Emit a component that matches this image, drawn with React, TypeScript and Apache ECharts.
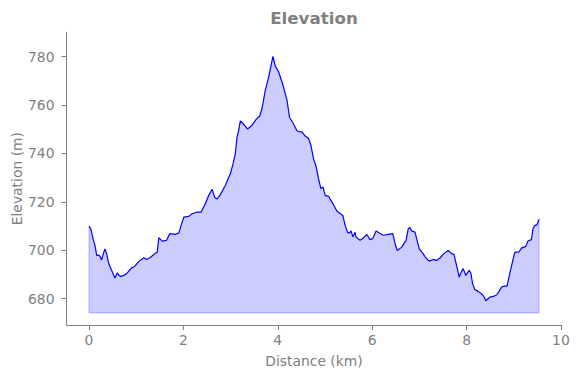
import React, { useEffect, useRef } from "react";
import * as echarts from "echarts";

const distanceKm = [
  0.0, 0.036, 0.085, 0.127, 0.163, 0.199, 0.233, 0.268, 0.304, 0.338, 0.374, 0.41, 0.444, 0.495, 0.55,
  0.6, 0.634, 0.67, 0.74, 0.812, 0.896, 0.966, 1.057, 1.163, 1.22, 1.29, 1.41, 1.446, 1.48, 1.552,
  1.643, 1.67, 1.712, 1.833, 1.903, 1.953, 2.008, 2.114, 2.186, 2.292, 2.376, 2.467, 2.537, 2.609,
  2.664, 2.715, 2.784, 2.89, 2.996, 3.053, 3.101, 3.137, 3.171, 3.207, 3.264, 3.362, 3.455, 3.545,
  3.615, 3.666, 3.736, 3.805, 3.898, 3.947, 4.017, 4.11, 4.195, 4.249, 4.321, 4.406, 4.476, 4.512,
  4.581, 4.651, 4.702, 4.757, 4.814, 4.863, 4.913, 4.956, 5.004, 5.074, 5.167, 5.252, 5.321, 5.378,
  5.427, 5.476, 5.518, 5.554, 5.59, 5.638, 5.66, 5.744, 5.814, 5.886, 5.956, 6.013, 6.082, 6.152,
  6.237, 6.342, 6.436, 6.484, 6.533, 6.626, 6.717, 6.765, 6.801, 6.837, 6.907, 6.998, 7.07, 7.14,
  7.209, 7.294, 7.366, 7.436, 7.52, 7.611, 7.683, 7.732, 7.789, 7.844, 7.88, 7.928, 7.985, 8.055,
  8.091, 8.127, 8.175, 8.245, 8.317, 8.366, 8.408, 8.493, 8.562, 8.634, 8.689, 8.74, 8.81, 8.858,
  8.915, 8.972, 9.021, 9.112, 9.163, 9.254, 9.302, 9.374, 9.408, 9.444, 9.493, 9.535,
];

const elevationM = [
  710.0, 709.0, 704.8, 702.0, 697.9, 698.0, 697.5, 696.0, 698.6, 700.5, 698.6, 695.0, 693.3, 691.0, 688.5,
  690.7, 689.6, 689.2, 689.6, 690.6, 692.6, 693.3, 695.4, 696.9, 696.2, 696.9, 698.8, 699.3, 705.2, 703.8,
  704.1, 705.2, 706.9, 706.6, 707.1, 710.3, 713.7, 714.0, 715.1, 715.8, 715.8, 719.3, 722.7, 725.2,
  721.8, 721.2, 723.0, 726.9, 731.7, 735.8, 740.0, 746.9, 749.6, 753.5, 752.4, 750.1, 751.7, 754.2,
  755.4, 758.6, 766.2, 771.5, 780.1, 776.1, 773.8, 768.3, 762.1, 754.9, 752.7, 749.4, 748.9, 748.9,
  747.2, 746.2, 743.4, 737.9, 734.5, 729.6, 725.5, 726.2, 722.7, 722.3, 719.3, 716.2, 715.2, 714.4,
  710.3, 707.5, 707.1, 708.0, 705.5, 707.4, 705.5, 704.1, 705.1, 706.5, 704.4, 704.8, 708.0, 707.1,
  706.2, 706.6, 706.9, 702.8, 699.9, 701.3, 704.1, 708.9, 709.4, 708.0, 707.5, 700.6, 698.8, 696.8,
  695.5, 696.2, 695.8, 696.8, 698.6, 699.9, 698.6, 698.3, 693.7, 688.9, 690.6, 692.4, 689.6, 691.7,
  690.6, 686.2, 683.8, 683.0, 682.0, 680.9, 679.1, 680.6, 680.9, 681.5, 683.0, 684.8, 685.2, 685.2,
  690.3, 695.1, 699.1, 699.3, 700.9, 701.6, 703.8, 704.4, 708.9, 710.2, 710.6, 712.8,
];

const xTicks = [0, 2, 4, 6, 8, 10];
const yTicks = [680, 700, 720, 740, 760, 780];

const TITLE = "Elevation";
const X_NAME = "Distance (km)";
const Y_NAME = "Elevation (m)";

export default function App() {
  const ref = useRef<HTMLDivElement>(null);

  useEffect(() => {
    if (!ref.current) return;
    const chart = echarts.init(ref.current, undefined, { renderer: "svg" });

    const data = distanceKm.map((d, i) => [d, elevationM[i]]);
    const minE = Math.min(...elevationM);
    const maxE = Math.max(...elevationM);
    const base = minE - 5;
    const xStart = distanceKm[0];
    const xEnd = distanceKm[distanceKm.length - 1];
    const xMargin = (xEnd - xStart) * 0.05;

    const gray = "#808080";
    const font = "DejaVu Sans";

    chart.setOption({
      animation: false,
      grid: {
        left: 66.5,
        right: 18.5,
        top: 32.3,
        bottom: 53,
        containLabel: false,
        outerBoundsMode: "none",
      },
      graphic: [
        {
          type: "text",
          x: 314,
          y: 18,
          style: {
            text: TITLE,
            fill: gray,
            font: `bold 16.7px "${font}"`,
            textAlign: "center",
            textVerticalAlign: "middle",
          },
        },
      ],
      xAxis: {
        type: "value",
        min: xStart - xMargin,
        max: xEnd + xMargin,
        name: X_NAME,
        nameLocation: "middle",
        nameGap: 29,
        nameMoveOverlap: false,
        nameTextStyle: { color: gray, fontSize: 13.9, fontFamily: font },
        axisLine: { show: true, onZero: false, lineStyle: { color: gray, width: 1 } },
        axisTick: { show: true, length: 5, lineStyle: { color: gray }, customValues: xTicks },
        axisLabel: { color: gray, fontSize: 13.9, fontFamily: font, margin: 8, customValues: xTicks },
        splitLine: { show: false },
      },
      yAxis: {
        type: "value",
        min: minE - 10,
        max: maxE + 10,
        name: Y_NAME,
        nameLocation: "middle",
        nameGap: 43,
        nameRotate: 90,
        nameMoveOverlap: false,
        nameTextStyle: { color: gray, fontSize: 13.9, fontFamily: font },
        axisLine: { show: true, onZero: false, lineStyle: { color: gray, width: 1 } },
        axisTick: { show: true, length: 5, lineStyle: { color: gray }, customValues: yTicks },
        axisLabel: { color: gray, fontSize: 13.9, fontFamily: font, margin: 12, customValues: yTicks },
        splitLine: { show: false },
      },
      series: [
        {
          type: "line",
          data: data,
          symbol: "none",
          smooth: false,
          lineStyle: { color: "#0000ff", width: 1.2 },
          itemStyle: { color: "#0000ff" },
          areaStyle: { color: "rgba(0,0,255,0.2)", opacity: 1, origin: base },
          z: 3,
        },
        {
          type: "line",
          data: [
            [xStart, elevationM[0]],
            [xStart, base],
            [xEnd, base],
            [xEnd, elevationM[elevationM.length - 1]],
          ],
          symbol: "none",
          lineStyle: { color: "rgba(0,0,255,0.2)", width: 1.3 },
          z: 2,
        },
      ],
    });

    return () => {
      chart.dispose();
    };
  }, []);

  return (
    <div
      ref={ref}
      style={{ position: "absolute", left: 0, top: 0, width: 580, height: 378 }}
    />
  );
}
